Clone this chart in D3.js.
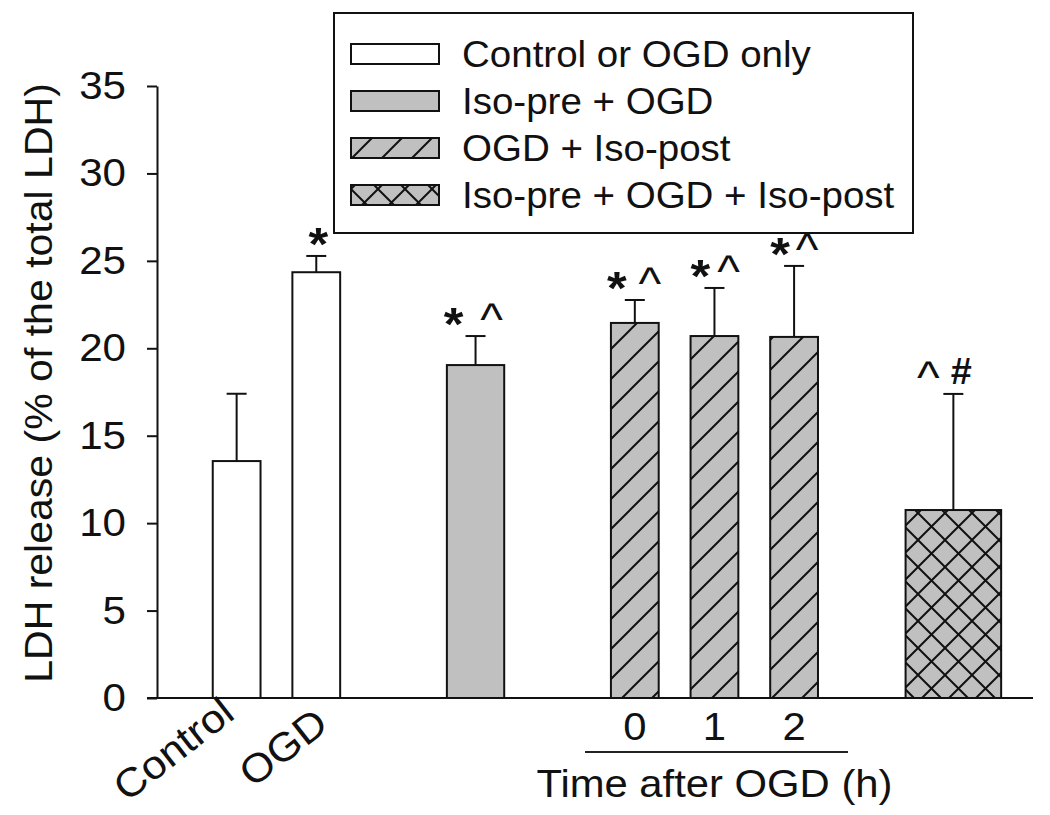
<!DOCTYPE html>
<html>
<head>
<meta charset="utf-8">
<script src="https://cdn.jsdelivr.net/npm/d3@7/dist/d3.min.js"></script>
<style>
  html, body { margin: 0; padding: 0; background: #ffffff; }
  svg { display: block; }
  text { font-family: "Liberation Sans", Arial, sans-serif; fill: #111; }
</style>
</head>
<body>
<svg id="chart" width="1050" height="815"></svg>
<script>
// ---------------- data ----------------
const categories = ["Control", "OGD", "Iso-pre + OGD", "OGD + Iso-post 0 h", "OGD + Iso-post 1 h", "OGD + Iso-post 2 h", "Iso-pre + OGD + Iso-post"];
const means  = [13.55, 24.35, 19.04, 21.45, 20.70, 20.65, 10.75];
const errors = [3.85, 0.93, 1.66, 1.31, 2.75, 4.06, 6.64];
const groups = ["plain", "plain", "gray", "hatch", "hatch", "hatch", "cross"];
const marks  = [[], ["*"], ["*", "^"], ["*", "^"], ["*", "^"], ["*", "^"], ["^", "#"]];
const yTicks = [0, 5, 10, 15, 20, 25, 30, 35];
const rotatedLabels = ["Control", "OGD"];
const timeLabels = ["0", "1", "2"];
const timeTitle = "Time after OGD (h)";
const yTitle = "LDH release (% of the total LDH)";
const legendLabels = ["Control or OGD only", "Iso-pre + OGD", "OGD + Iso-post", "Iso-pre + OGD + Iso-post"];
const legendGroups = ["plain", "gray", "hatch", "cross"];

// ---------------- layout ----------------
const slots = [0, 1, 3, 5, 6, 7, 9];
const widthUnits = { plain: 0.6, gray: 0.72, hatch: 0.6, cross: 1.2 };
const markDx = [[], [2], [-22, 16], [-18, 15], [-14, 14], [-14, 13], [-25, 8]];
const rotAnchor = [[0, 717], [14, 728]];
const FONT = '"Liberation Sans", Arial, sans-serif';

const svg = d3.select("#chart");
svg.append("rect").attr("width", 1050).attr("height", 815).attr("fill", "#fff");

const x = d3.scaleLinear().domain([-1, 10]).range([157, 1033]);
const y = d3.scaleLinear().domain([0, 35]).range([698, 86]);
const unit = x(1) - x(0);

// patterns
const defs = svg.append("defs");
const PH = 30, PC = 27;
const hatch = defs.append("pattern").attr("id", "hatch").attr("patternUnits", "userSpaceOnUse")
  .attr("width", PH).attr("height", PH);
hatch.append("rect").attr("width", PH).attr("height", PH).attr("fill", "#c0c0c0");
hatch.append("path").attr("d", `M0,${PH} L${PH},0 M-4,4 L4,-4 M${PH-4},${PH+4} L${PH+4},${PH-4}`)
  .attr("stroke", "#111").attr("stroke-width", 2);
const cross = defs.append("pattern").attr("id", "cross").attr("patternUnits", "userSpaceOnUse")
  .attr("width", PC).attr("height", PC);
cross.append("rect").attr("width", PC).attr("height", PC).attr("fill", "#c0c0c0");
cross.append("path").attr("d", `M0,${PC} L${PC},0 M-4,4 L4,-4 M${PC-4},${PC+4} L${PC+4},${PC-4} M0,0 L${PC},${PC} M-4,${PC-4} L4,${PC+4} M${PC-4},-4 L${PC+4},4`)
  .attr("stroke", "#111").attr("stroke-width", 2);

const fillOf = g => g === "plain" ? "#ffffff" : g === "gray" ? "#c0c0c0" : g === "hatch" ? "url(#hatch)" : "url(#cross)";

function label(sel, px, py, str, size, sx, rot, anchor, weight) {
  return sel.append("text")
    .attr("transform", `translate(${px},${py}) rotate(${rot || 0}) scale(${sx},1)`)
    .attr("text-anchor", anchor || "start")
    .attr("font-size", size)
    .attr("font-weight", weight || "normal")
    .attr("font-family", FONT)
    .text(str);
}

// bars
const data = categories.map((c, i) => ({ c, m: means[i], e: errors[i], g: groups[i], s: slots[i], marks: marks[i], dx: markDx[i] }));
const barG = svg.append("g");
data.forEach(d => {
  const w = widthUnits[d.g] * unit;
  const cx = x(d.s);
  barG.append("line").attr("x1", cx).attr("x2", cx).attr("y1", y(d.m)).attr("y2", y(d.m + d.e))
    .attr("stroke", "#111").attr("stroke-width", 2);
  barG.append("line").attr("x1", cx - 10).attr("x2", cx + 10).attr("y1", y(d.m + d.e)).attr("y2", y(d.m + d.e))
    .attr("stroke", "#111").attr("stroke-width", 2);
  barG.append("rect").attr("x", cx - w / 2).attr("y", y(d.m)).attr("width", w).attr("height", y(0) - y(d.m))
    .attr("fill", fillOf(d.g)).attr("stroke", "#111").attr("stroke-width", 2);
  const capY = y(d.m + d.e);
  d.marks.forEach((mk, k) => {
    const mx = cx + d.dx[k];
    if (mk === "*") label(barG, mx, capY + 4, mk, 46, 1.1, 0, "middle", "bold");
    else if (mk === "^") label(barG, mx, capY - 1, mk, 46, 1.05, 0, "middle", "normal");
    else label(barG, mx, capY - 10, mk, 36, 1.05, 0, "middle", "bold");
  });
});

// y axis
const yAxis = d3.axisLeft(y).tickValues(yTicks).tickSize(10).tickSizeOuter(0).tickPadding(21);
const ag = svg.append("g").attr("transform", `translate(${x(-1)},0)`).call(yAxis);
ag.select(".domain").attr("stroke", "#111").attr("stroke-width", 2);
ag.selectAll(".tick line").attr("stroke", "#111").attr("stroke-width", 2);
ag.selectAll(".tick text")
  .attr("font-size", 39).attr("font-family", FONT).attr("fill", "#111")
  .attr("x", null)
  .attr("transform", "translate(-31,0) scale(1.08,1)");

// baseline
svg.append("line").attr("x1", x(-1) - 10).attr("x2", x.range()[1]).attr("y1", y(0)).attr("y2", y(0))
  .attr("stroke", "#111").attr("stroke-width", 2);

// y title
label(svg, 52, 383, yTitle, 38, 1.08, -90, "middle");

// rotated category labels
rotatedLabels.forEach((t, i) => label(svg, x(slots[i]) + rotAnchor[i][0], rotAnchor[i][1], t, 40, 1.08, -38, "end"));

// time labels
timeLabels.forEach((t, i) => label(svg, x(slots[3 + i]), 740, t, 38, 1.1, 0, "middle"));
svg.append("line").attr("x1", 585).attr("x2", 848).attr("y1", 752).attr("y2", 752)
  .attr("stroke", "#222").attr("stroke-width", 2);
label(svg, (x(slots[3]) + x(slots[5])) / 2, 797, timeTitle, 38, 1.1, 0, "middle");

// legend
const lg = svg.append("g");
lg.append("rect").attr("x", 334).attr("y", 13).attr("width", 579).attr("height", 220)
  .attr("fill", "#fff").attr("stroke", "#111").attr("stroke-width", 2);
legendLabels.forEach((t, i) => {
  const cy = 54 + i * 47;
  lg.append("rect").attr("x", 351).attr("y", cy - 10).attr("width", 88).attr("height", 20)
    .attr("fill", fillOf(legendGroups[i])).attr("stroke", "#111").attr("stroke-width", 2);
  label(lg, 462, cy + 12.5, t, 36, 1.07, 0, "start");
});
</script>
</body>
</html>
